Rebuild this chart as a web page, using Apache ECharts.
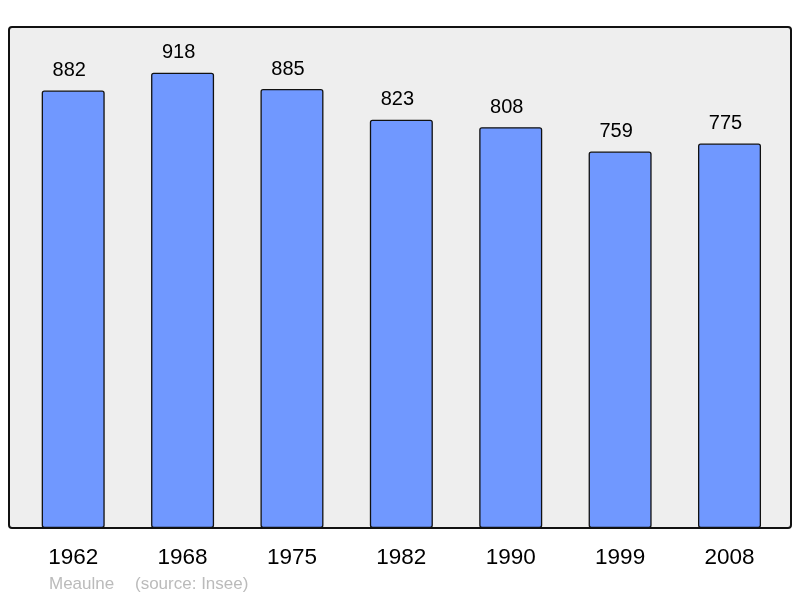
<!DOCTYPE html>
<html>
<head>
<meta charset="utf-8">
<script src="https://cdn.jsdelivr.net/npm/echarts@6/dist/echarts.min.js"></script>
<style>
html,body{margin:0;padding:0;background:#fff;}
#c{width:800px;height:598px;}
</style>
</head>
<body>
<div id="c"></div>
<script>
var categories = ['1962', '1968', '1975', '1982', '1990', '1999', '2008'];
var population = [882, 918, 885, 823, 808, 759, 775];
var footerName = 'Meaulne';
var footerSource = '(source: Insee)';

var chart = echarts.init(document.getElementById('c'), null, {renderer: 'canvas'});
chart.setOption({
  backgroundColor: '#ffffff',
  animation: false,
  graphic: [
    {
      type: 'rect', z: -10,
      shape: {x: 9, y: 27, width: 782, height: 501, r: 3},
      style: {fill: '#eeeeee', stroke: '#111111', lineWidth: 2}
    },
    {
      type: 'text', left: 49, top: 576,
      style: {text: footerName, fill: '#bbbbbb', font: '17px "Liberation Sans", Arial, sans-serif'}
    },
    {
      type: 'text', left: 135, top: 576,
      style: {text: footerSource, fill: '#bbbbbb', font: '17px "Liberation Sans", Arial, sans-serif'}
    }
  ],
  grid: {left: 18.5, right: 15.8, top: 27, bottom: 70, containLabel: false},
  xAxis: {
    type: 'category',
    data: categories,
    axisLine: {show: false},
    axisTick: {show: false},
    axisLabel: {
      color: '#000', fontSize: 22.5, margin: 18,
      fontFamily: '"Liberation Sans", Arial, sans-serif'
    }
  },
  yAxis: {
    type: 'value', min: 0, max: 1010,
    show: false,
    splitLine: {show: false}
  },
  series: [{
    type: 'bar',
    data: population,
    barWidth: '57.6%',
    itemStyle: {color: '#7098ff', borderColor: '#111111', borderWidth: 1.3, borderRadius: 2},
    label: {
      show: true, position: 'top', distance: 10, offset: [-4, 0],
      color: '#000', fontSize: 20,
      fontFamily: '"Liberation Sans", Arial, sans-serif'
    }
  }]
});
</script>
</body>
</html>
